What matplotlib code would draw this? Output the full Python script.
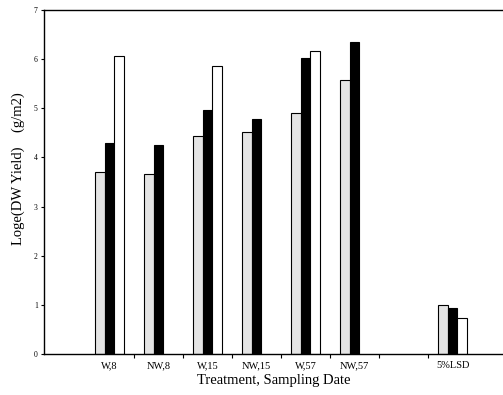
import matplotlib.pyplot as plt
import numpy as np

# treatment groups, then the LSD group in slot 7
groups = ["W,8", "NW,8", "W,15", "NW,15", "W,57", "NW,57", "5%LSD"]
slots = [0, 1, 2, 3, 4, 5, 7]

# three series per group (nan = no bar)
stippled = [3.70, 3.66, 4.43, 4.51, 4.90, 5.58, 1.00]
black = [4.29, 4.26, 4.97, 4.78, 6.03, 6.34, 0.94]
white = [6.07, np.nan, 5.87, np.nan, 6.17, np.nan, 0.73]

y_ticks = [0, 1, 2, 3, 4, 5, 6, 7]


def main():

    plt.rcParams["font.family"] = ["Liberation Serif", "DejaVu Serif"]

    fig = plt.figure(figsize=(5.03, 3.95), dpi=100)
    ax = fig.add_axes([0.0875, 0.1038, 0.9125, 0.8709])

    x = np.array(slots, dtype=float)
    w = 0.2

    ax.bar(x - w, stippled, width=w, color="#e4e4e4",
           edgecolor="black", linewidth=0.8)
    ax.bar(x, black, width=w, color="black",
           edgecolor="black", linewidth=0.8)
    ax.bar(x + w, white, width=w, color="white",
           edgecolor="black", linewidth=0.8)

    ax.set_xlim(-1.337, 8.03)
    ax.set_ylim(0, 7)

    ax.set_xticks(x)
    ax.set_xticklabels(groups, fontsize=7.5)
    ax.tick_params(axis="x", which="major", length=0, pad=5)
    ax.set_xticks(np.arange(0.5, 7.0, 1.0), minor=True)
    ax.tick_params(axis="x", which="minor", direction="out",
                   length=3, width=0.8)

    ax.set_yticks(y_ticks)
    ax.set_yticklabels([str(v) for v in y_ticks], fontsize=5.5)
    ax.tick_params(axis="y", direction="out", length=2.5,
                   width=0.8, pad=2)

    ax.spines["right"].set_visible(False)
    for side in ["left", "top", "bottom"]:
        ax.spines[side].set_linewidth(1.0)

    ax.set_xlabel("Treatment, Sampling Date", fontsize=10.5, labelpad=3)
    ax.set_ylabel("Loge(DW Yield)    (g/m2)", fontsize=10.5)
    ax.yaxis.set_label_coords(-0.042, 0.54)

    fig.savefig("out.png", dpi=100)


if __name__ == "__main__":

    main()
